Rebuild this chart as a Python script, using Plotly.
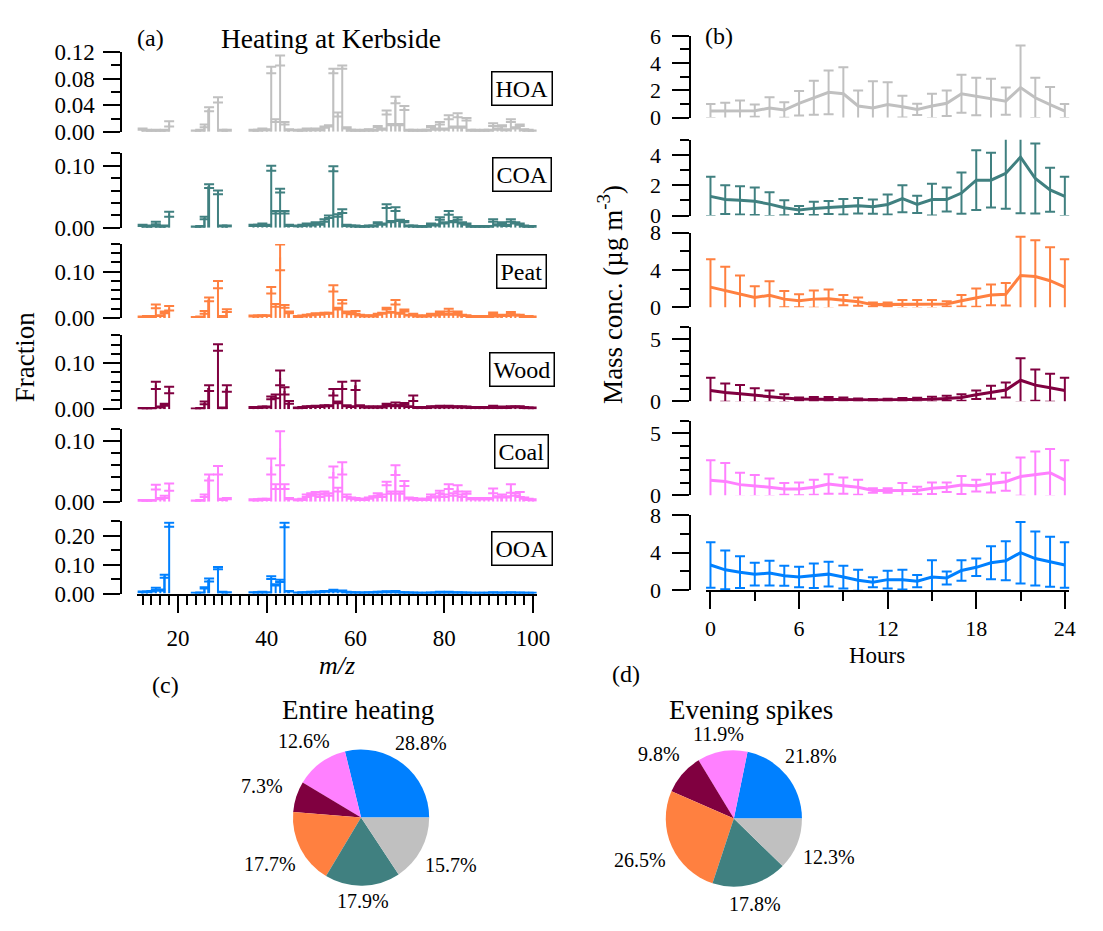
import math
import plotly.graph_objects as go

# target picture size and the page offset (default body margin of the html page)
W, H = 1103, 931
OFF = 8
FIG_W, FIG_H = W - 2 * OFF, H - 2 * OFF
SERIF = "Liberation Serif"

# ---------------- data ----------------
FACTORS = ["HOA", "COA", "Peat", "Wood", "Coal", "OOA"]
COLORS = ["#C0C0C0", "#408080", "#FF8040", "#800040", "#FF80FF", "#0080FF"]

MZ = [12, 13, 14, 15, 16, 17, 18,
      24, 25, 26, 27, 29, 30, 31,
      37, 38, 39, 40, 41, 42, 43, 44, 45,
      47, 48, 49, 50, 51, 52, 53, 54, 55, 56,
      57, 58, 59, 60, 61, 62, 63, 64, 65, 66,
      67, 68, 69, 70, 71, 72, 73, 74, 75, 76,
      77, 78, 79, 80, 81, 82, 83, 84, 85, 86,
      87, 88, 89, 90, 91, 92, 93, 94, 95, 96,
      97, 98, 99, 100]

HOA_MS = [.004, .002, .001, .002, .001, .002, .012,
          .001, .002, .009, .034, .048, .002, .002,
          .002, .002, .004, .003, .093, .017, .1075, .013, .003,
          .002, .002, .004, .003, .004, .003, .007, .009, .0915, .026,
          .0975, .006, .002, .002, .001, .002, .003, .002, .008, .004,
          .029, .011, .048, .011, .036, .002, .002, .001, .002, .002,
          .008, .004, .013, .004, .022, .007, .025, .007, .019, .002,
          .002, .001, .002, .002, .011, .004, .009, .003, .017, .006,
          .010, .003, .002, .001]
HOA_ERR = [.001, .001, .001, .001, .001, .001, .004,
           .001, .001, .002, .003, .004, .001, .001,
           .001, .001, .001, .001, .005, .002, .0075, .002, .001,
           .001, .001, .001, .001, .001, .001, .001, .001, .0035, .003,
           .0025, .001, .001, .001, .001, .001, .001, .001, .001, .001,
           .003, .001, .005, .001, .003, .001, .001, .001, .001, .001,
           .001, .001, .002, .001, .003, .001, .003, .001, .002, .001,
           .001, .001, .001, .001, .002, .001, .001, .001, .002, .001,
           .001, .001, .001, .001]

COA_MS = [.004, .002, .003, .008, .002, .003, .022,
          .001, .002, .016, .067, .057, .003, .003,
          .004, .004, .006, .004, .096, .025, .060, .025, .004,
          .003, .004, .006, .005, .008, .006, .012, .018, .095, .020,
          .027, .004, .003, .003, .002, .002, .003, .003, .008, .006,
          .035, .010, .030, .012, .010, .003, .003, .002, .002, .002,
          .006, .005, .015, .008, .024, .010, .015, .008, .006, .002,
          .002, .002, .002, .002, .012, .005, .008, .004, .012, .008,
          .006, .003, .002, .002]
COA_ERR = [.001, .001, .001, .002, .001, .001, .004,
           .001, .001, .002, .003, .003, .001, .001,
           .001, .001, .001, .001, .004, .002, .003, .002, .001,
           .001, .001, .001, .001, .001, .001, .002, .002, .004, .002,
           .003, .001, .001, .001, .001, .001, .001, .001, .001, .001,
           .003, .001, .003, .001, .001, .001, .001, .001, .001, .001,
           .001, .001, .002, .001, .003, .001, .002, .001, .001, .001,
           .001, .001, .001, .001, .002, .001, .001, .001, .002, .001,
           .001, .001, .001, .001]

PEAT_MS = [.002, .003, .003, .025, .005, .012, .021,
           .001, .002, .012, .040, .072, .003, .016,
           .004, .004, .005, .005, .060, .027, .131, .025, .012,
           .003, .004, .006, .007, .009, .008, .010, .010, .064, .020,
           .035, .012, .010, .012, .006, .004, .005, .004, .008, .010,
           .020, .012, .034, .010, .016, .006, .008, .004, .004, .004,
           .008, .006, .012, .008, .017, .008, .012, .006, .005, .003,
           .003, .003, .003, .003, .010, .004, .006, .005, .011, .006,
           .006, .003, .003, .002]
PEAT_ERR = [.001, .001, .001, .004, .001, .002, .005,
            .001, .001, .003, .004, .008, .001, .003,
            .001, .001, .001, .001, .007, .003, .028, .003, .002,
            .001, .001, .001, .001, .001, .001, .001, .001, .007, .002,
            .004, .002, .002, .003, .001, .001, .001, .001, .001, .001,
            .002, .001, .005, .001, .002, .001, .001, .001, .001, .001,
            .001, .001, .002, .001, .003, .001, .002, .001, .001, .001,
            .001, .001, .001, .001, .002, .001, .001, .001, .002, .001,
            .001, .001, .001, .001]

WOOD_MS = [.002, .002, .002, .052, .005, .010, .042,
           .001, .002, .014, .046, .134, .003, .045,
           .004, .004, .005, .005, .025, .028, .068, .040, .015,
           .003, .004, .006, .006, .007, .006, .008, .008, .037, .015,
           .052, .008, .006, .052, .008, .005, .005, .005, .005, .005,
           .010, .008, .012, .008, .012, .006, .024, .004, .004, .004,
           .006, .005, .007, .005, .007, .005, .006, .005, .005, .004,
           .004, .004, .004, .004, .007, .004, .005, .004, .006, .005,
           .006, .004, .003, .003]
WOOD_ERR = [.001, .001, .001, .008, .001, .002, .007,
            .001, .001, .003, .006, .007, .001, .007,
            .001, .001, .001, .001, .003, .004, .016, .008, .003,
            .001, .001, .001, .001, .001, .001, .001, .001, .007, .002,
            .008, .001, .001, .010, .001, .001, .001, .001, .001, .001,
            .002, .001, .003, .001, .002, .001, .006, .001, .001, .001,
            .001, .001, .001, .001, .001, .001, .001, .001, .001, .001,
            .001, .001, .001, .001, .001, .001, .001, .001, .001, .001,
            .001, .001, .001, .001]

COAL_MS = [.002, .002, .002, .024, .005, .008, .024,
           .001, .002, .010, .040, .052, .004, .005,
           .003, .003, .004, .004, .058, .025, .088, .025, .005,
           .003, .004, .010, .012, .014, .010, .015, .012, .049, .020,
           .055, .010, .006, .005, .004, .004, .006, .008, .012, .010,
           .030, .015, .052, .015, .030, .006, .005, .004, .004, .004,
           .010, .008, .016, .010, .025, .012, .022, .010, .015, .005,
           .005, .005, .005, .005, .018, .008, .010, .008, .022, .012,
           .012, .006, .004, .003]
COAL_ERR = [.001, .001, .001, .004, .001, .002, .006,
            .001, .001, .002, .005, .007, .001, .001,
            .001, .001, .001, .001, .013, .004, .028, .004, .001,
            .001, .001, .002, .002, .002, .002, .002, .002, .009, .003,
            .010, .002, .001, .001, .001, .001, .001, .001, .002, .002,
            .003, .002, .008, .002, .004, .001, .001, .001, .001, .001,
            .002, .001, .002, .002, .004, .002, .005, .002, .002, .001,
            .001, .001, .001, .001, .004, .001, .002, .001, .007, .002,
            .004, .001, .001, .001]

OOA_MS = [.006, .006, .008, .016, .012, .060, .238,
          .002, .003, .020, .047, .088, .005, .004,
          .004, .004, .005, .004, .055, .030, .044, .237, .008,
          .003, .004, .004, .005, .005, .006, .008, .008, .012, .008,
          .010, .005, .004, .004, .003, .003, .004, .004, .005, .005,
          .007, .005, .008, .004, .004, .003, .003, .002, .002, .002,
          .003, .003, .005, .003, .005, .003, .004, .003, .003, .002,
          .002, .002, .002, .002, .004, .002, .003, .002, .004, .002,
          .003, .002, .002, .002]
OOA_ERR = [.001, .001, .001, .004, .002, .005, .007,
           .001, .001, .002, .005, .004, .001, .001,
           .001, .001, .001, .001, .005, .002, .004, .008, .001,
           .001, .001, .001, .001, .001, .001, .001, .001, .001, .001,
           .001, .001, .001, .001, .001, .001, .001, .001, .001, .001,
           .001, .001, .001, .001, .001, .001, .001, .001, .001, .001,
           .001, .001, .001, .001, .001, .001, .001, .001, .001, .001,
           .001, .001, .001, .001, .001, .001, .001, .001, .001, .001,
           .001, .001, .001, .001]

HOURS = [0, 1, 2, 3, 4, 5, 6, 7, 8, 9, 10, 11, 12,
         13, 14, 15, 16, 17, 18, 19, 20, 21, 22, 23, 24]

HOA_DIUR = [0.48, 0.48, 0.48, 0.50, 0.70, 0.55, 1.05, 1.45, 1.85, 1.75, 0.85, 0.70, 0.95,
            0.80, 0.60, 0.85, 1.05, 1.75, 1.55, 1.35, 1.20, 2.20, 1.45, 0.95, 0.48]
HOA_DERR = [0.52, 0.60, 0.78, 0.45, 0.80, 0.57, 0.90, 1.25, 1.60, 1.95, 1.13, 1.97, 1.65,
            0.80, 0.42, 0.90, 0.93, 1.40, 1.38, 1.50, 1.00, 3.10, 1.48, 1.30, 0.52]
COA_DIUR = [1.26, 1.05, 1.00, 0.94, 0.75, 0.51, 0.36, 0.47, 0.53, 0.58, 0.64, 0.58, 0.73,
            1.11, 0.73, 1.05, 1.05, 1.48, 2.33, 2.33, 2.78, 3.85, 2.44, 1.69, 1.26]
COA_DERR = [1.29, 0.95, 0.93, 0.90, 0.79, 0.49, 0.26, 0.43, 0.43, 0.51, 0.51, 0.47, 0.66,
            0.89, 0.57, 1.05, 0.79, 1.36, 1.97, 1.80, 2.33, 3.70, 2.30, 1.45, 1.29]
PEAT_DIUR = [2.16, 1.80, 1.46, 1.04, 1.29, 0.87, 0.70, 0.87, 0.90, 0.77, 0.60, 0.28, 0.28,
             0.35, 0.35, 0.35, 0.35, 0.70, 1.04, 1.32, 1.39, 3.40, 3.30, 2.85, 2.16]
PEAT_DERR = [3.00, 2.55, 1.94, 1.22, 1.49, 0.87, 0.69, 0.93, 1.01, 0.55, 0.44, 0.24, 0.24,
             0.42, 0.42, 0.42, 0.28, 0.62, 0.98, 1.11, 1.21, 4.18, 3.90, 3.58, 3.00]
WOOD_DIUR = [0.86, 0.70, 0.60, 0.47, 0.39, 0.26, 0.18, 0.18, 0.18, 0.18, 0.13, 0.10, 0.10,
             0.13, 0.13, 0.16, 0.23, 0.31, 0.52, 0.73, 0.91, 1.69, 1.30, 1.09, 0.86]
WOOD_DERR = [1.04, 0.73, 0.70, 0.57, 0.47, 0.31, 0.13, 0.16, 0.16, 0.13, 0.10, 0.08, 0.10,
             0.13, 0.16, 0.20, 0.21, 0.26, 0.34, 0.52, 0.60, 1.77, 1.25, 1.12, 1.04]
COAL_DIUR = [1.22, 1.12, 0.86, 0.78, 0.65, 0.52, 0.52, 0.65, 0.91, 0.78, 0.65, 0.39, 0.39,
             0.44, 0.39, 0.57, 0.65, 0.83, 0.78, 0.96, 1.09, 1.51, 1.69, 1.82, 1.22]
COAL_DERR = [1.59, 1.48, 0.96, 0.86, 0.70, 0.47, 0.52, 0.60, 0.78, 0.65, 0.60, 0.18, 0.18,
             0.55, 0.31, 0.47, 0.39, 0.73, 0.47, 0.73, 0.73, 1.54, 1.83, 1.90, 1.59]
OOA_DIUR = [2.68, 2.16, 1.91, 1.70, 1.81, 1.53, 1.39, 1.53, 1.70, 1.39, 1.04, 0.83, 1.11,
            1.11, 0.94, 1.39, 1.29, 2.09, 2.43, 2.92, 3.13, 4.00, 3.37, 3.03, 2.68]
OOA_DERR = [2.43, 2.08, 1.71, 1.22, 1.32, 1.08, 1.11, 1.32, 1.33, 1.22, 1.12, 0.53, 0.94,
            1.05, 0.66, 1.81, 0.69, 1.11, 0.94, 1.78, 2.09, 3.30, 2.89, 2.67, 2.43]

# pie order: OOA, Coal, Wood, Peat, COA, HOA (counter-clockwise from 3 o'clock)
PIE_ORDER = ["OOA", "Coal", "Wood", "Peat", "COA", "HOA"]
PIE_ENTIRE = [28.8, 12.6, 7.3, 17.7, 17.9, 15.7]
PIE_EVENING = [21.8, 11.9, 9.8, 26.5, 17.8, 12.3]

SPECTRA = [(HOA_MS, HOA_ERR), (COA_MS, COA_ERR), (PEAT_MS, PEAT_ERR),
           (WOOD_MS, WOOD_ERR), (COAL_MS, COAL_ERR), (OOA_MS, OOA_ERR)]
DIURNAL = [(HOA_DIUR, HOA_DERR), (COA_DIUR, COA_DERR), (PEAT_DIUR, PEAT_DERR),
           (WOOD_DIUR, WOOD_DERR), (COAL_DIUR, COAL_DERR), (OOA_DIUR, OOA_DERR)]


# ---------------- layout helpers (page pixels -> paper) ----------------
def fx(p):
    return (p - OFF) / FIG_W


def fy(p):
    return 1 - (p - OFF) / FIG_H


LEFT_TICKFONT = dict(family=SERIF, size=23, color="black")
RIGHT_TICKFONT = dict(family=SERIF, size=22, color="black")

# left spectra: (top px, bottom px, ymax, dtick, minor dtick)
LEFT = [(41, 123, 0.12, 0.04, 0.02),
        (145, 221.7, 0.12, 0.10, 0.02),
        (238.3, 314.3, 0.16, 0.10, 0.02),
        (332.3, 408.3, 0.16, 0.10, 0.02),
        (428.3, 503.3, 0.12, 0.10, 0.02),
        (523.3, 597.7, 0.25, 0.10, 0.05)]
# right diurnals
RIGHT = [(24.3, 108.3, 6, 2, 1),
         (131, 209, 5, 2, 1),
         (226.7, 303.3, 8, 4, 2),
         (323.2, 400, 6, 5, 1),
         (419.9, 496.7, 6, 5, 1),
         (517.3, 594, 8, 4, 2)]
BOX_Y = [78, 167, 267, 367, 452, 551]

fig = go.Figure()
layout = dict(
    width=FIG_W, height=FIG_H, margin=dict(l=0, r=0, t=0, b=0),
    paper_bgcolor="white", plot_bgcolor="white", showlegend=False,
    barmode="overlay", font=dict(family=SERIF, color="black"),
)

axis_common = dict(showline=True, linecolor="black", linewidth=2, ticks="outside",
                   ticklen=17, tickwidth=2, tickcolor="black", showgrid=False,
                   zeroline=False)
MINOR = dict(ticks="outside", ticklen=9, tickwidth=2, tickcolor="black", tick0=0)

layout["xaxis"] = dict(axis_common, domain=[fx(138), fx(543)], range=[10.8, 100.8],
                       anchor="y6", dtick=20, tick0=0, ticklabelstandoff=6,
                       tickfont=LEFT_TICKFONT, minor=dict(MINOR, dtick=2))
layout["xaxis2"] = dict(axis_common, domain=[fx(714.8), fx(1083.1)], range=[-0.3, 24.3],
                        anchor="y12", dtick=6, tick0=0, ticklabelstandoff=1,
                        tickfont=RIGHT_TICKFONT, minor=dict(MINOR, dtick=3))

annotations = []
for i, (name, col) in enumerate(zip(FACTORS, COLORS)):
    top, bot, ymax, dt, mdt = LEFT[i]
    yname = "yaxis" if i == 0 else f"yaxis{i + 1}"
    layout[yname] = dict(axis_common, domain=[fy(bot), fy(top)], range=[0, ymax],
                         anchor="free", position=fx(122), dtick=dt, tick0=0,
                         tickformat=".2f", ticklabelstandoff=4,
                         tickfont=LEFT_TICKFONT, minor=dict(MINOR, dtick=mdt))
    ms, err = SPECTRA[i]
    fig.add_trace(go.Bar(
        x=MZ, y=ms, width=0.45, xaxis="x", yaxis=f"y{i + 1}" if i else "y",
        marker=dict(color=col, line=dict(width=0)),
        error_y=dict(type="data", array=err, visible=True, color=col,
                     thickness=2, width=5),
        hoverinfo="skip"))
    annotations.append(dict(x=fx(528), y=fy(BOX_Y[i]), xref="paper", yref="paper",
                            text=name, showarrow=False, xanchor="center", yanchor="middle",
                            font=dict(family=SERIF, size=24, color="black"),
                            bordercolor="black", borderwidth=1.5, borderpad=3,
                            bgcolor="white"))

    top, bot, ymax, dt, mdt = RIGHT[i]
    j = i + 7
    layout[f"yaxis{j}"] = dict(axis_common, domain=[fy(bot), fy(top)], range=[0, ymax],
                               anchor="free", position=fx(699), dtick=dt, tick0=0,
                               ticklabelstandoff=7, tickfont=RIGHT_TICKFONT,
                               minor=dict(MINOR, dtick=mdt))
    vals, derr = DIURNAL[i]
    fig.add_trace(go.Scatter(
        x=HOURS, y=vals, mode="lines", xaxis="x2", yaxis=f"y{j}",
        line=dict(color=col, width=3),
        error_y=dict(type="data", array=derr, visible=True, color=col,
                     thickness=2, width=5),
        hoverinfo="skip"))

# pies
color_of = dict(zip(FACTORS, COLORS))
pie_colors = [color_of[n] for n in PIE_ORDER]
PIES = [(PIE_ENTIRE, 365, 828, "Entire heating", 362),
        (PIE_EVENING, 743, 829, "Evening spikes", 760)]
R = 70
for vals, cx, cy, title, tx in PIES:
    total = sum(vals)
    first_deg = 360.0 * vals[0] / total
    fig.add_trace(go.Pie(
        values=vals, labels=PIE_ORDER, sort=False, direction="counterclockwise",
        rotation=90 - first_deg, textinfo="none", hoverinfo="skip",
        marker=dict(colors=pie_colors, line=dict(width=0)),
        domain=dict(x=[fx(cx - R), fx(cx + R)], y=[fy(cy + R), fy(cy - R)])))
    cum = 0.0
    for v in vals:
        mid = (cum + v / 2) / total * 2 * math.pi
        cum += v
        d = 85 + 21 * abs(math.cos(mid))
        lx = cx + d * math.cos(mid)
        ly = cy - d * math.sin(mid)
        annotations.append(dict(x=fx(lx), y=fy(ly), xref="paper", yref="paper",
                                text=f"{v:.1f}%", showarrow=False,
                                xanchor="center", yanchor="middle",
                                font=dict(family=SERIF, size=20, color="black")))
    annotations.append(dict(x=fx(tx), y=fy(717), xref="paper", yref="paper",
                            text=title, showarrow=False, xanchor="center",
                            yanchor="middle", font=dict(family=SERIF, size=27, color="black")))


def txt(x, y, s, size, angle=0):
    annotations.append(dict(x=fx(x), y=fy(y), xref="paper", yref="paper", text=s,
                            showarrow=False, xanchor="center", yanchor="middle",
                            textangle=angle,
                            font=dict(family=SERIF, size=size, color="black")))


txt(151, 27, "(a)", 24)
txt(335, 27, "Heating at Kerbside", 27.5)
txt(728, 24, "(b)", 24)
txt(167, 692, "(c)", 24)
txt(634, 680, "(d)", 24)
txt(341, 672, "<i>m/z</i>", 26)
txt(888, 661, "Hours", 23)
txt(24, 355, "Fraction", 27, -90)
txt(618, 290, "Mass conc. (µg m<sup>-3</sup>)", 27, -90)

layout["annotations"] = annotations
fig.update_layout(**layout)
fig.write_html("out.html")
